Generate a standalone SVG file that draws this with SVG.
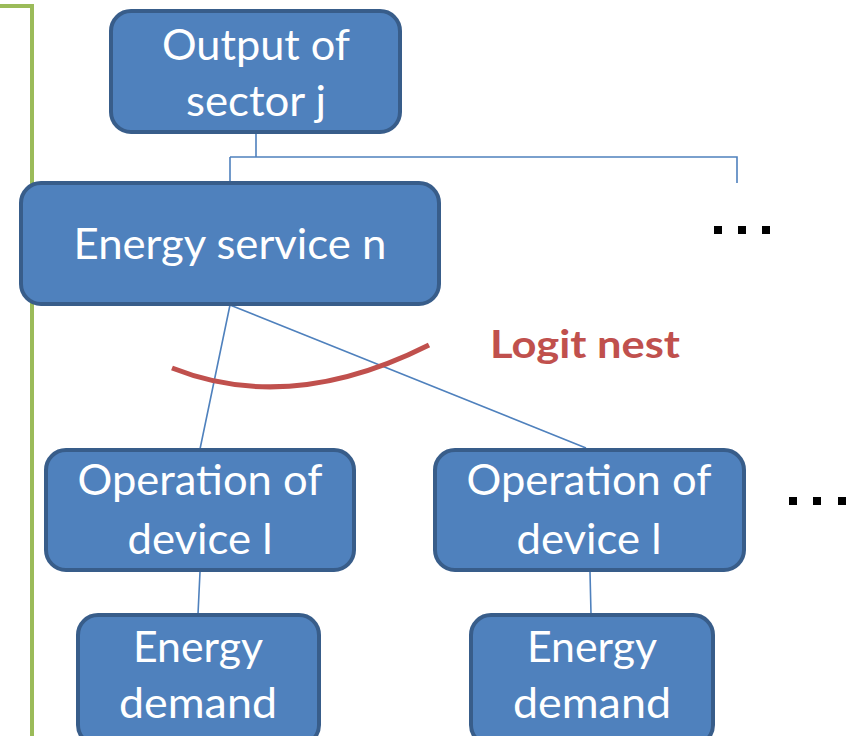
<svg xmlns="http://www.w3.org/2000/svg" width="846" height="736" viewBox="0 0 846 736">
<style>
.box{fill:#4F81BD;stroke:#385D8A;stroke-width:4}
.t{fill:#fff;font-family:"Lato","Liberation Sans",sans-serif;font-size:43px;text-anchor:middle}
.c{stroke:#4F81BD;stroke-width:1.6;fill:none}
.dot{fill:#000}
</style>
<rect width="846" height="736" fill="#fff"/>
<path d="M0 6 H32 V736" fill="none" stroke="#9BBB59" stroke-width="4"/>
<g id="connectors">
<path class="c" d="M256 132 V157 M230 157 H737 V183 M230 157 V183"/>
<path class="c" d="M230 305 L200 449 M230 305 L586 448"/>
<path class="c" d="M200 572 L198 614 M590 572 L591 614"/>
</g>
<g id="sector">
<rect class="box" x="111" y="11" width="289" height="121" rx="20"/>
<text class="t" x="256" y="60" textLength="188" lengthAdjust="spacingAndGlyphs">Output of</text>
<text class="t" x="256" y="116" textLength="140" lengthAdjust="spacingAndGlyphs">sector j</text>
</g>
<g id="service">
<rect class="box" x="21" y="183" width="418" height="121" rx="20"/>
<text class="t" x="230" y="259" textLength="313" lengthAdjust="spacingAndGlyphs">Energy service n</text>
</g>
<g id="nest">
<path d="M172 368 Q290 415 429 345" fill="none" stroke="#C0504D" stroke-width="5"/>
<text x="490" y="358" font-family="Lato,'Liberation Sans',sans-serif" font-weight="bold" font-size="39" fill="#C0504D" textLength="190" lengthAdjust="spacingAndGlyphs">Logit nest</text>
</g>
<g id="op1">
<rect class="box" x="46" y="450" width="308" height="120" rx="20"/>
<text class="t" x="200" y="495" textLength="245" lengthAdjust="spacingAndGlyphs">Operation of</text>
<text class="t" x="200" y="554" textLength="145" lengthAdjust="spacingAndGlyphs">device l</text>
</g>
<g id="op2">
<rect class="box" x="435" y="450" width="309" height="120" rx="20"/>
<text class="t" x="589" y="495" textLength="245" lengthAdjust="spacingAndGlyphs">Operation of</text>
<text class="t" x="589" y="554" textLength="145" lengthAdjust="spacingAndGlyphs">device l</text>
</g>
<g id="demand1">
<rect class="box" x="78" y="615" width="241" height="130" rx="20"/>
<text class="t" x="198" y="662" textLength="130" lengthAdjust="spacingAndGlyphs">Energy</text>
<text class="t" x="198" y="718" textLength="158" lengthAdjust="spacingAndGlyphs">demand</text>
</g>
<g id="demand2">
<rect class="box" x="471" y="615" width="242" height="130" rx="20"/>
<text class="t" x="592" y="662" textLength="130" lengthAdjust="spacingAndGlyphs">Energy</text>
<text class="t" x="592" y="718" textLength="158" lengthAdjust="spacingAndGlyphs">demand</text>
</g>
<g id="dots1">
<rect class="dot" x="714" y="226" width="8" height="8"/>
<rect class="dot" x="738" y="226" width="8" height="8"/>
<rect class="dot" x="762" y="226" width="8" height="8"/>
</g>
<g id="dots2">
<rect class="dot" x="789" y="497" width="8" height="8"/>
<rect class="dot" x="813" y="497" width="8" height="8"/>
<rect class="dot" x="838" y="497" width="8" height="8"/>
</g>
</svg>
